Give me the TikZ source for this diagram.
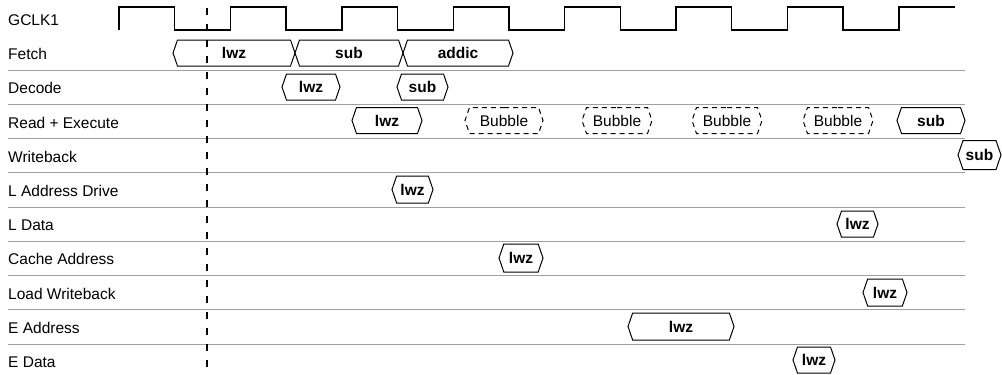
\documentclass[tikz,border=0pt]{standalone}
\usepackage{fontspec}
\setmainfont{Liberation Sans}
\usepackage{tikz}
\usetikzlibrary{shapes.symbols}
\definecolor{Rule}{HTML}{A0A0A0}

\begin{document}
\begin{tikzpicture}[x=1pt,y=-1pt,
  font=\fontsize{15.5}{18}\selectfont,
  stage/.style={signal,signal to=west and east,signal pointer angle=142,draw,line width=1pt,
    inner sep=0pt,minimum height=26pt,font=\fontsize{15.5}{18}\selectfont\bfseries},
  bubble/.style={stage,dash pattern=on 5pt off 4pt,font=\fontsize{15.5}{18}\selectfont}]
\useasboundingbox (0,0) rectangle (1002,375);

% row labels and rules
\foreach \lbl [count=\i from 0] in {GCLK1,Fetch,Decode,Read + Execute,Writeback,L Address Drive,
    L Data,Cache Address,Load Writeback,E Address,E Data}
  \node [anchor=west,inner sep=0pt] (row\i) at (8,{20+34.2*\i}) {\lbl};
\foreach \i in {1,...,9}
  \draw [Rule,line width=1pt] (8,{70+34.25*(\i-1)}) -- (965,{70+34.25*(\i-1)});

% clock
\draw [line width=1.4pt] (119,30) \foreach \k in {0,...,6} {-- ++(0,-23) -- ++(55.7,0) -- ++(0,23) -- ++(55.7,0)}
  -- ++(0,-23) -- ++(56,0);

\draw [line width=1.3pt,dash pattern=on 7pt off 9pt] (207,8) -- (207,375);

% fetch
\node [stage,minimum width=122pt] (flwz) at (234,53) {lwz};
\node [stage,minimum width=108pt] (fsub) at (349,53) {sub};
\node [stage,minimum width=110pt] (faddic) at (458,53) {addic};
% decode
\node [stage,minimum width=58pt] (dlwz) at (311,87) {lwz};
\node [stage,minimum width=51pt] (dsub) at (422.5,87) {sub};
% read + execute
\node [stage,minimum width=70pt] (xlwz) at (387,120.5) {lwz};
\node [bubble,minimum width=78pt] (xb1) at (504,120.5) {Bubble};
\node [bubble,minimum width=70pt] (xb2) at (617,120.5) {Bubble};
\node [bubble,minimum width=70pt] (xb3) at (727,120.5) {Bubble};
\node [bubble,minimum width=70pt] (xb4) at (838,120.5) {Bubble};
\node [stage,minimum width=68pt] (xsub) at (931,120.5) {sub};
% writeback
\node [stage,minimum width=43pt,minimum height=29pt] (wsub) at (979.5,155) {sub};
% loads
\node [stage,minimum width=41pt,minimum height=27pt] (ladr) at (412.5,189.5) {lwz};
\node [stage,minimum width=41pt] (ldat) at (857.5,224) {lwz};
\node [stage,minimum width=44pt,minimum height=28pt] (cadr) at (521,258) {lwz};
\node [stage,minimum width=44pt,minimum height=27pt] (lwb) at (885,292.5) {lwz};
\node [stage,minimum width=106pt,minimum height=27pt] (eadr) at (681,326.5) {lwz};
\node [stage,minimum width=42pt] (edat) at (814,360) {lwz};
\end{tikzpicture}
\end{document}
